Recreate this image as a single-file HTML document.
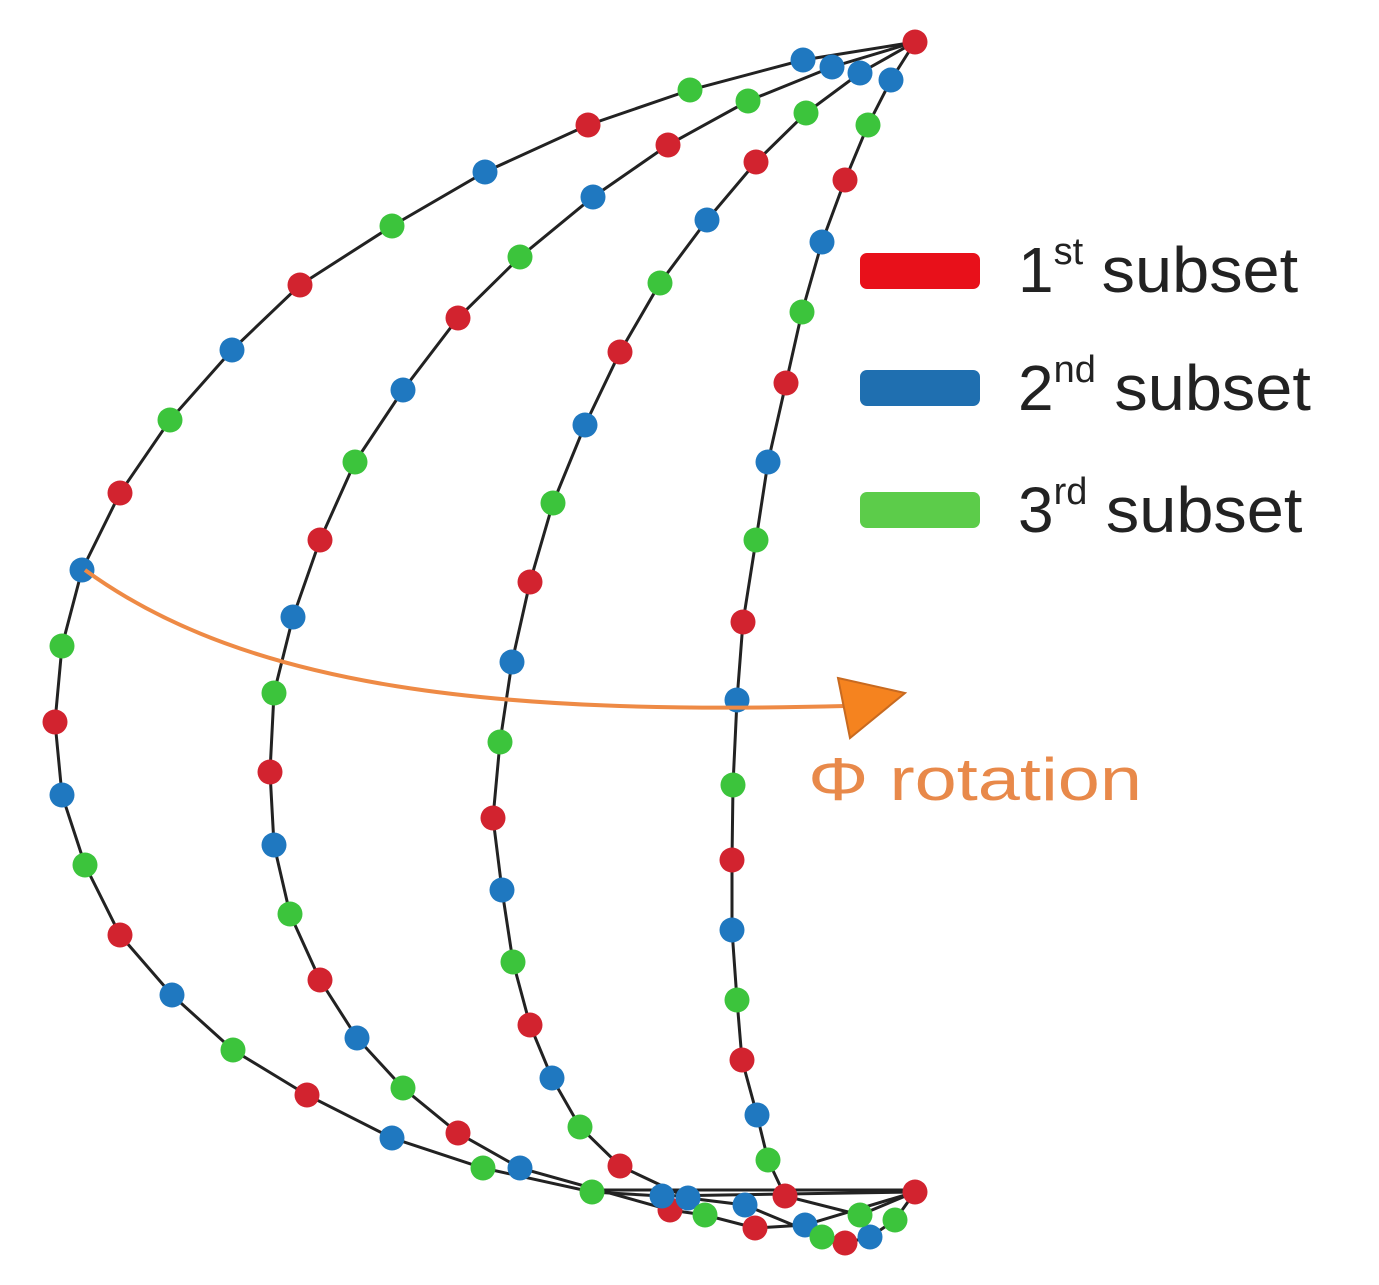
<!DOCTYPE html>
<html><head><meta charset="utf-8"><style>html,body{margin:0;padding:0;background:#fff}svg{display:block}</style></head>
<body>
<svg width="1379" height="1285" viewBox="0 0 1379 1285" xmlns="http://www.w3.org/2000/svg">
<g fill="none" stroke="#222" stroke-width="3">
<polyline points="915,42 803,60 690,90 588,125 485,172 392,226 300,285 232,350 170,420 120,493 82,570 62,646 55,722 62,795 85,865 120,935 172,995 233,1050 307,1095 392,1138 483,1168 592,1192 662,1196 915,1192"/>
<polyline points="915,42 832,67 748,101 668,145 593,197 520,257 458,318 403,390 355,462 320,540 293,617 274,693 270,772 274,845 290,914 320,980 357,1038 403,1088 458,1133 520,1168 670,1210 705,1215 755,1228 805,1225 915,1192"/>
<polyline points="915,42 860,73 806,113 756,162 707,220 660,283 620,352 585,425 553,503 530,582 512,662 500,742 493,818 502,890 513,962 530,1025 552,1078 580,1127 620,1166 688,1198 745,1205 822,1237 845,1243 870,1237 895,1220 915,1192"/>
<polyline points="915,42 891,80 868,125 845,180 822,242 802,312 786,383 768,462 756,540 743,622 737,700 733,785 732,860 732,930 737,1000 742,1060 757,1115 768,1160 785,1196 860,1215 915,1192"/>
<line x1="592" y1="1190" x2="915" y2="1190"/>
</g>
<g fill="#d2232f">
<circle cx="915" cy="42" r="12.5"/><circle cx="588" cy="125" r="12.5"/><circle cx="300" cy="285" r="12.5"/><circle cx="120" cy="493" r="12.5"/><circle cx="55" cy="722" r="12.5"/><circle cx="120" cy="935" r="12.5"/><circle cx="307" cy="1095" r="12.5"/>
<circle cx="668" cy="145" r="12.5"/><circle cx="458" cy="318" r="12.5"/><circle cx="320" cy="540" r="12.5"/><circle cx="270" cy="772" r="12.5"/><circle cx="320" cy="980" r="12.5"/><circle cx="458" cy="1133" r="12.5"/><circle cx="670" cy="1210" r="12.5"/><circle cx="755" cy="1228" r="12.5"/>
<circle cx="756" cy="162" r="12.5"/><circle cx="620" cy="352" r="12.5"/><circle cx="530" cy="582" r="12.5"/><circle cx="493" cy="818" r="12.5"/><circle cx="530" cy="1025" r="12.5"/><circle cx="620" cy="1166" r="12.5"/><circle cx="845" cy="1243" r="12.5"/>
<circle cx="845" cy="180" r="12.5"/><circle cx="786" cy="383" r="12.5"/><circle cx="743" cy="622" r="12.5"/><circle cx="732" cy="860" r="12.5"/><circle cx="742" cy="1060" r="12.5"/><circle cx="785" cy="1196" r="12.5"/><circle cx="915" cy="1192" r="12.5"/>
</g>
<g fill="#1f78c0">
<circle cx="803" cy="60" r="12.5"/><circle cx="485" cy="172" r="12.5"/><circle cx="232" cy="350" r="12.5"/><circle cx="82" cy="570" r="12.5"/><circle cx="62" cy="795" r="12.5"/><circle cx="172" cy="995" r="12.5"/><circle cx="392" cy="1138" r="12.5"/><circle cx="662" cy="1196" r="12.5"/>
<circle cx="832" cy="67" r="12.5"/><circle cx="593" cy="197" r="12.5"/><circle cx="403" cy="390" r="12.5"/><circle cx="293" cy="617" r="12.5"/><circle cx="274" cy="845" r="12.5"/><circle cx="357" cy="1038" r="12.5"/><circle cx="520" cy="1168" r="12.5"/><circle cx="805" cy="1225" r="12.5"/>
<circle cx="860" cy="73" r="12.5"/><circle cx="707" cy="220" r="12.5"/><circle cx="585" cy="425" r="12.5"/><circle cx="512" cy="662" r="12.5"/><circle cx="502" cy="890" r="12.5"/><circle cx="552" cy="1078" r="12.5"/><circle cx="688" cy="1198" r="12.5"/><circle cx="745" cy="1205" r="12.5"/><circle cx="870" cy="1237" r="12.5"/>
<circle cx="891" cy="80" r="12.5"/><circle cx="822" cy="242" r="12.5"/><circle cx="768" cy="462" r="12.5"/><circle cx="737" cy="700" r="12.5"/><circle cx="732" cy="930" r="12.5"/><circle cx="757" cy="1115" r="12.5"/>
</g>
<g fill="#3cc43c">
<circle cx="690" cy="90" r="12.5"/><circle cx="392" cy="226" r="12.5"/><circle cx="170" cy="420" r="12.5"/><circle cx="62" cy="646" r="12.5"/><circle cx="85" cy="865" r="12.5"/><circle cx="233" cy="1050" r="12.5"/><circle cx="483" cy="1168" r="12.5"/><circle cx="592" cy="1192" r="12.5"/>
<circle cx="748" cy="101" r="12.5"/><circle cx="520" cy="257" r="12.5"/><circle cx="355" cy="462" r="12.5"/><circle cx="274" cy="693" r="12.5"/><circle cx="290" cy="914" r="12.5"/><circle cx="403" cy="1088" r="12.5"/><circle cx="705" cy="1215" r="12.5"/>
<circle cx="806" cy="113" r="12.5"/><circle cx="660" cy="283" r="12.5"/><circle cx="553" cy="503" r="12.5"/><circle cx="500" cy="742" r="12.5"/><circle cx="513" cy="962" r="12.5"/><circle cx="580" cy="1127" r="12.5"/><circle cx="822" cy="1237" r="12.5"/><circle cx="895" cy="1220" r="12.5"/>
<circle cx="868" cy="125" r="12.5"/><circle cx="802" cy="312" r="12.5"/><circle cx="756" cy="540" r="12.5"/><circle cx="733" cy="785" r="12.5"/><circle cx="737" cy="1000" r="12.5"/><circle cx="768" cy="1160" r="12.5"/><circle cx="860" cy="1215" r="12.5"/>
</g>
<path d="M85,570 C250,690 500,715 845,706" fill="none" stroke="#ee8a45" stroke-width="4"/>
<polygon points="838,678 905,693 850,738" fill="#f5831f" stroke="#c86a20" stroke-width="2"/>
<text x="808" y="800" font-family="Liberation Sans, sans-serif" font-size="60" fill="#e8894a" textLength="334" lengthAdjust="spacingAndGlyphs">Φ rotation</text>
<rect x="860" y="253" width="120" height="36" rx="7" fill="#e8101a"/>
<rect x="860" y="370" width="120" height="36" rx="7" fill="#1f6fb0"/>
<rect x="860" y="492" width="120" height="36" rx="7" fill="#5ccc4a"/>
<g font-family="Liberation Sans, sans-serif" font-size="64" fill="#222">
<text x="1018" y="292">1<tspan font-size="38" dy="-28">st</tspan><tspan dy="28" textLength="215" lengthAdjust="spacingAndGlyphs"> subset</tspan></text>
<text x="1018" y="410">2<tspan font-size="38" dy="-28">nd</tspan><tspan dy="28" textLength="215" lengthAdjust="spacingAndGlyphs"> subset</tspan></text>
<text x="1018" y="532">3<tspan font-size="38" dy="-28">rd</tspan><tspan dy="28" textLength="215" lengthAdjust="spacingAndGlyphs"> subset</tspan></text>
</g>
</svg>
</body></html>
